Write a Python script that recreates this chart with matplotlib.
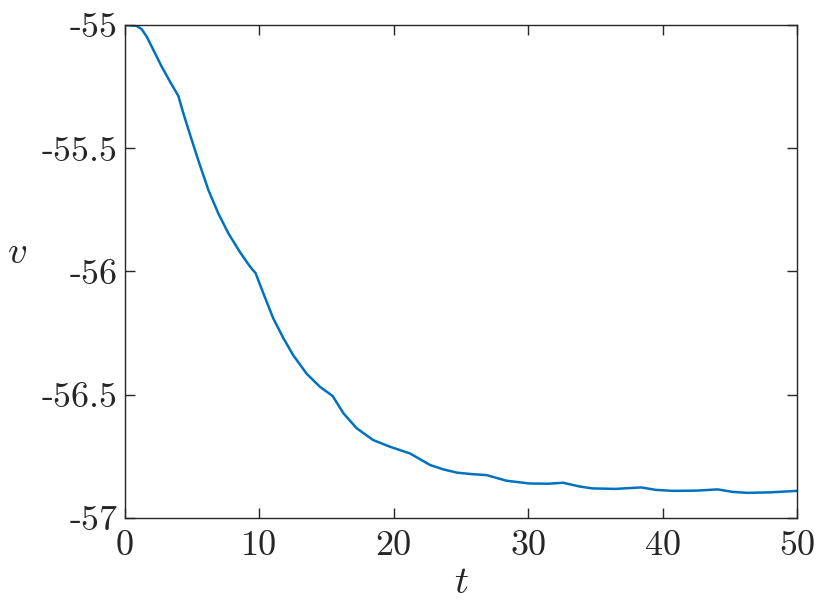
import matplotlib
matplotlib.use("Agg")
import matplotlib.pyplot as plt
import numpy as np

# values
t = [0, 0.87, 1.24, 1.61, 2.11, 2.73, 3.35, 3.97, 4.34, 4.84, 5.46, 6.2,
     6.94, 7.69, 8.56, 9.3, 9.72, 10.29, 11.03, 11.78, 12.52, 13.52, 14.51,
     15.45, 16.25, 17.24, 18.47, 19.72, 21.2, 22.7, 23.7, 24.7, 25.8,
     26.9, 28.4, 30.1, 31.5, 32.6, 33.8, 34.8, 36.5, 38.4, 39.5, 40.8,
     42.5, 44.1, 45.2, 46.3, 48.0, 50.0]
v = [-55.0, -55.004, -55.017, -55.047, -55.101, -55.169, -55.23, -55.288,
     -55.358, -55.445, -55.55, -55.669, -55.764, -55.845, -55.922, -55.98,
     -56.007, -56.088, -56.19, -56.27, -56.34, -56.415, -56.468,
     -56.505, -56.575, -56.636, -56.684, -56.711, -56.738, -56.785,
     -56.803, -56.816, -56.822, -56.826, -56.849, -56.86, -56.861,
     -56.857, -56.872, -56.88, -56.882, -56.876, -56.886, -56.89,
     -56.889, -56.884, -56.894, -56.898, -56.896, -56.89]

xticks = [0, 10, 20, 30, 40, 50]
yticks = [-57, -56.5, -56, -55.5, -55]
ytick_labels = ["-57", "-56.5", "-56", "-55.5", "-55"]

plt.rcParams['font.family'] = 'serif'
plt.rcParams['font.serif'] = ['cmr10']
plt.rcParams['mathtext.fontset'] = 'cm'
plt.rcParams['axes.unicode_minus'] = False

axcol = (0.15, 0.15, 0.15)

fig = plt.figure(figsize=(8.3, 6.12), dpi=100)
ax = fig.add_axes([0.1506, 0.1536, 0.8096, 0.8056])

ax.plot(t, v, color='#0072BD', lw=1.8, solid_joinstyle='round')

ax.set_xlim(0, 50)
ax.set_ylim(-57, -55)
ax.set_xticks(xticks)
ax.set_xticklabels([str(x) for x in xticks])
ax.set_yticks(yticks)
ax.set_yticklabels(ytick_labels)

ax.tick_params(direction='in', length=7, width=1, colors=axcol,
               labelsize=26, top=True, right=True)
ax.tick_params(axis='x', pad=9)
ax.tick_params(axis='y', pad=5)
for s in ax.spines.values():
    s.set_color(axcol)
    s.set_linewidth(1)

ax.set_xlabel('$t$', fontsize=28, color=axcol, labelpad=2)
ax.set_ylabel('$v$', fontsize=28, color=axcol, rotation=0, labelpad=0)
ax.yaxis.set_label_coords(-0.16, 0.5)

plt.savefig('out.png', dpi=100)
